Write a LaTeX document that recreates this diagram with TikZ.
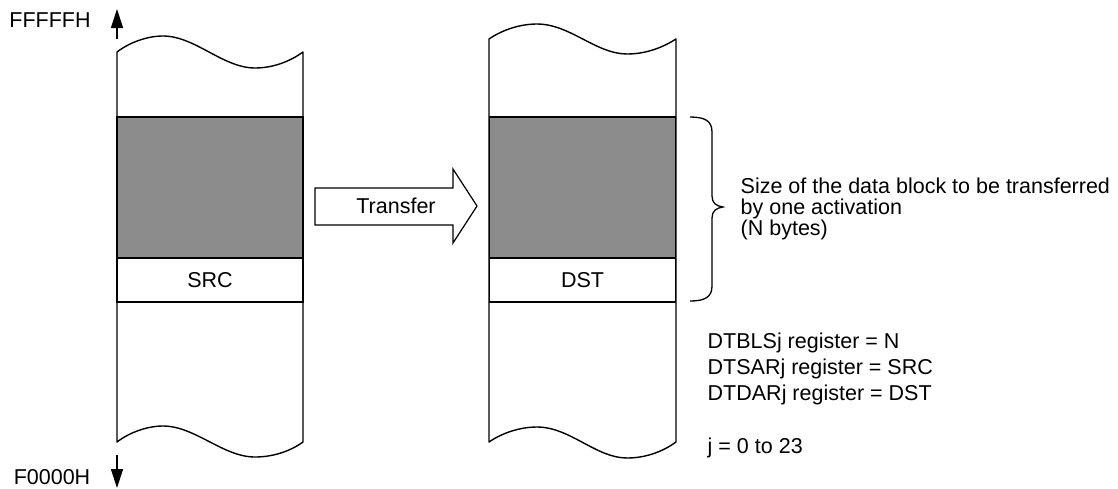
\documentclass[tikz,border=0pt]{standalone}
\usepackage{fontspec}
\setmainfont{Liberation Sans}
\usetikzlibrary{arrows.meta}
\definecolor{blockgray}{RGB}{140,140,140}
\begin{document}
\begin{tikzpicture}[x=1pt,y=-1pt, line width=1.4pt,
  font=\fontsize{21.5}{24}\selectfont,
  outline/.style={draw=black, line width=1.4pt, line join=round, fill=white},
  block/.style={draw, fill=blockgray, minimum width=186pt, minimum height=141pt, inner sep=0pt},
  addr/.style={draw, fill=white, minimum width=186pt, minimum height=44pt, inner sep=0pt},
  lbl/.style={inner sep=0pt, anchor=west, align=left},
  addrarrow/.style={line width=1.2pt, -{Triangle[length=19pt,width=12pt]}}]
\useasboundingbox (0,0) rectangle (1118,488);
% left column
\draw[outline] (117,442) -- (117,52) .. controls (130,42) and (148,36) .. (163,36)
  .. controls (195,36) and (223,68) .. (255,68) .. controls (275,68) and (292,60) .. (303,52)
  -- (303,442) .. controls (292,450) and (275,457) .. (255,457)
  .. controls (223,457) and (195,426) .. (163,426) .. controls (148,426) and (130,432) .. (117,442) -- cycle;
% right column
\draw[outline] (489,442) -- (489,39) .. controls (502,30) and (520,24) .. (537,24)
  .. controls (570,24) and (596,54) .. (627,54) .. controls (648,54) and (665,46) .. (676,39)
  -- (676,442) .. controls (665,450) and (648,458) .. (627,458)
  .. controls (596,458) and (570,427) .. (537,427) .. controls (520,427) and (502,433) .. (489,442) -- cycle;
% blocks
\node[block] (srcblk) at (210,187.5) {};
\node[addr] (src) at (210,280) {SRC};
\node[block] (dstblk) at (582.5,187.5) {};
\node[addr] (dst) at (582.5,280) {DST};
% transfer arrow
\draw[line width=1.2pt, line join=miter] (315,188) -- (453,188) -- (453,169) -- (477,206) -- (453,243) -- (453,225) -- (315,225) -- cycle;
\node (xfer) at (396,206) {Transfer};
% address arrows
\node (hi) at (50,20) {FFFFFH};
\node (lo) at (52,477) {F0000H};
\coordinate (upA) at (117,39);
\coordinate (upB) at (117,9);
\coordinate (dnA) at (117,455);
\coordinate (dnB) at (117,488);
\draw[addrarrow] (upA) -- (upB);
\draw[addrarrow] (dnA) -- (dnB);
% brace
\draw[line width=1.3pt] (690,117) .. controls (705,117) and (712,121) .. (712,132) -- (712,196)
  .. controls (712,203) and (716,206) .. (723,207) .. controls (716,208) and (712,211) .. (712,218)
  -- (712,286) .. controls (712,297) and (705,301) .. (690,301);
% texts
\node[lbl, font=\fontsize{21.5}{21}\selectfont] (size) at (740,209) {Size of the data block to be transferred\\by one activation\\(N bytes)};
\node[lbl, font=\fontsize{21.5}{26}\selectfont] (regs) at (707,369) {DTBLSj register = N\\DTSARj register = SRC\\DTDARj register = DST};
\node[lbl] (jr) at (707,448) {j = 0 to 23};
\end{tikzpicture}
\end{document}
